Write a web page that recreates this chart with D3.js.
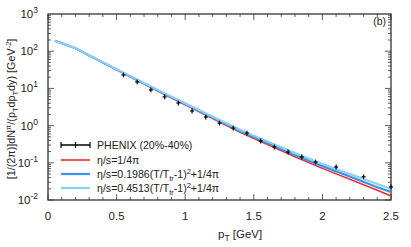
<!DOCTYPE html>
<html><head><meta charset="utf-8">
<script src="https://cdn.jsdelivr.net/npm/d3@7"></script>
<style>body{margin:0;background:#fff}text{font-family:"Liberation Sans",Arial,sans-serif}</style>
</head><body><svg id="c" width="411" height="247"></svg>
<script>
const dataPt = [0.55,0.65,0.75,0.85,0.95,1.05,1.15,1.25,1.35,1.45,1.55,1.65,1.75,1.85,1.95,2.1,2.3,2.5];
const dataY = [23,14.9,9.1,5.9,4.05,2.47,1.70,1.17,0.86,0.63,0.385,0.266,0.195,0.143,0.105,0.077,0.042,0.0224];
const curvePt = [0.05,0.2,0.4,0.6,0.8,1.0,1.2,1.4,1.6,1.8,2.0,2.2,2.4,2.5];
const redY = [190,120,49.0,20.4,8.51,3.63,1.55,0.661,0.309,0.145,0.0708,0.0363,0.0182,0.0129];
const blueY = [190,120,49.5,20.9,8.81,3.80,1.64,0.716,0.339,0.162,0.0813,0.0427,0.0221,0.0164];
const lblueY = [190.5,120.2,50.1,21.4,9.12,3.98,1.74,0.776,0.372,0.182,0.0933,0.0501,0.0269,0.0200];
const xTicks = [0,0.5,1,1.5,2,2.5];
const yTickExp = [-2,-1,0,1,2,3];
const seriesNames = ["PHENIX (20%-40%)","η/s=1/4π","η/s=0.1986(T/T","η/s=0.4513(T/T"];

const svg = d3.select("#c");
const L=48,R=391,T=14,B=200;
const x = d3.scaleLinear().domain([0,2.5]).range([L,R]);
const y = d3.scaleLog().domain([0.01,1000]).range([B,T]);
const ax = "#333";

const g = svg.append("g");
for (let v=0; v<=2.5001; v+=0.1) {
  const major = Math.abs(v*2-Math.round(v*2))<1e-6;
  const len = major?6:3;
  g.append("line").attr("x1",x(v)).attr("x2",x(v)).attr("y1",B).attr("y2",B-len).attr("stroke",ax).attr("stroke-width",0.8);
  g.append("line").attr("x1",x(v)).attr("x2",x(v)).attr("y1",T).attr("y2",T+len).attr("stroke",ax).attr("stroke-width",0.8);
}
for (let e=-2; e<3; e++) {
  for (let m=1; m<=9; m++) {
    const v = m*Math.pow(10,e);
    const len = m===1?6:3;
    g.append("line").attr("x1",L).attr("x2",L+len).attr("y1",y(v)).attr("y2",y(v)).attr("stroke",ax).attr("stroke-width",0.8);
    g.append("line").attr("x1",R).attr("x2",R-len).attr("y1",y(v)).attr("y2",y(v)).attr("stroke",ax).attr("stroke-width",0.8);
  }
}
svg.append("rect").attr("x",L).attr("y",T).attr("width",R-L).attr("height",B-T).attr("fill","none").attr("stroke",ax).attr("stroke-width",1.3);

xTicks.forEach(v=>svg.append("text").attr("x",x(v)).attr("y",220).attr("text-anchor","middle").attr("font-size",11.5).attr("fill","#222").text(v));
yTickExp.forEach(e=>{
  const t = svg.append("text").attr("x",38).attr("y",y(Math.pow(10,e))+4).attr("text-anchor","end").attr("font-size",11.5).attr("fill","#222");
  t.append("tspan").text("10");
  t.append("tspan").attr("dy",-5).attr("font-size",8.5).text(e);
});

const xt = svg.append("text").attr("x",218).attr("y",238).attr("font-size",11.5).attr("fill","#222");
xt.append("tspan").text("p");
xt.append("tspan").attr("dy",3).attr("font-size",8.5).text("T");
xt.append("tspan").attr("dy",-3).text(" [GeV]");

const yt = svg.append("text").attr("transform","translate(15,109) rotate(-90)").attr("text-anchor","middle").attr("font-size",10.8).attr("fill","#222");
yt.append("tspan").text("[1/(2π)]dN");
yt.append("tspan").attr("dy",-4).attr("font-size",7.5).text("π");
yt.append("tspan").attr("dy",4).text("/(p");
yt.append("tspan").attr("dy",3).attr("font-size",7.5).text("T");
yt.append("tspan").attr("dy",-3).text("dp");
yt.append("tspan").attr("dy",3).attr("font-size",7.5).text("T");
yt.append("tspan").attr("dy",-3).text("dy) [GeV");
yt.append("tspan").attr("dy",-4).attr("font-size",7.5).text("-2");
yt.append("tspan").attr("dy",4).text("]");

svg.append("text").attr("x",386).attr("y",25).attr("text-anchor","end").attr("font-size",10.5).attr("fill","#222").text("(b)");

const line = d3.line().x(d=>x(d[0])).y(d=>y(d[1]));
const curves = [[redY,"#ee3030",1.6],[blueY,"#3c90e8",2.2],[lblueY,"#88d0f8",2.2]];
svg.append("clipPath").attr("id","cp").append("rect").attr("x",L).attr("y",T).attr("width",R-L).attr("height",B-T);
curves.forEach(([ys,col,w])=>{
  svg.append("path").attr("clip-path","url(#cp)").datum(curvePt.map((p,i)=>[p,ys[i]])).attr("d",line).attr("fill","none").attr("stroke",col).attr("stroke-width",w);
});

const pg = svg.append("g").attr("stroke","#000").attr("stroke-width",1.2);
dataPt.forEach((p,i)=>{
  const cx=x(p), cy=y(dataY[i]);
  pg.append("line").attr("x1",cx).attr("x2",cx).attr("y1",y(dataY[i]*1.16)).attr("y2",y(dataY[i]/1.16));
  pg.append("line").attr("x1",cx-2).attr("x2",cx+2).attr("y1",cy).attr("y2",cy);
});

const lg = svg.append("g");
const rows=[145,160,174,188];
lg.append("line").attr("x1",61).attr("x2",90).attr("y1",rows[0]).attr("y2",rows[0]).attr("stroke","#000").attr("stroke-width",1.5);
[61,75.5,90].forEach(xx=>lg.append("line").attr("x1",xx).attr("x2",xx).attr("y1",rows[0]-3).attr("y2",rows[0]+3).attr("stroke","#000").attr("stroke-width",1.2));
curves.forEach(([ys,col,w],i)=>lg.append("line").attr("x1",61).attr("x2",90).attr("y1",rows[i+1]).attr("y2",rows[i+1]).attr("stroke",col).attr("stroke-width",w));
const tx=97, fs=10.6;
lg.append("text").attr("x",tx).attr("y",rows[0]+4).attr("font-size",fs).attr("fill","#222").text(seriesNames[0]);
lg.append("text").attr("x",tx).attr("y",rows[1]+4).attr("font-size",fs).attr("fill","#222").text(seriesNames[1]);
[2,3].forEach(k=>{
  const t=lg.append("text").attr("x",tx).attr("y",rows[k]+4).attr("font-size",fs).attr("fill","#222");
  t.append("tspan").text(seriesNames[k]);
  t.append("tspan").attr("dy",2.5).attr("font-size",7.5).text("tr");
  t.append("tspan").attr("dy",-2.5).text("-1)");
  t.append("tspan").attr("dy",-4).attr("font-size",7.5).text("2");
  t.append("tspan").attr("dy",4).text("+1/4π");
});
</script></body></html>
